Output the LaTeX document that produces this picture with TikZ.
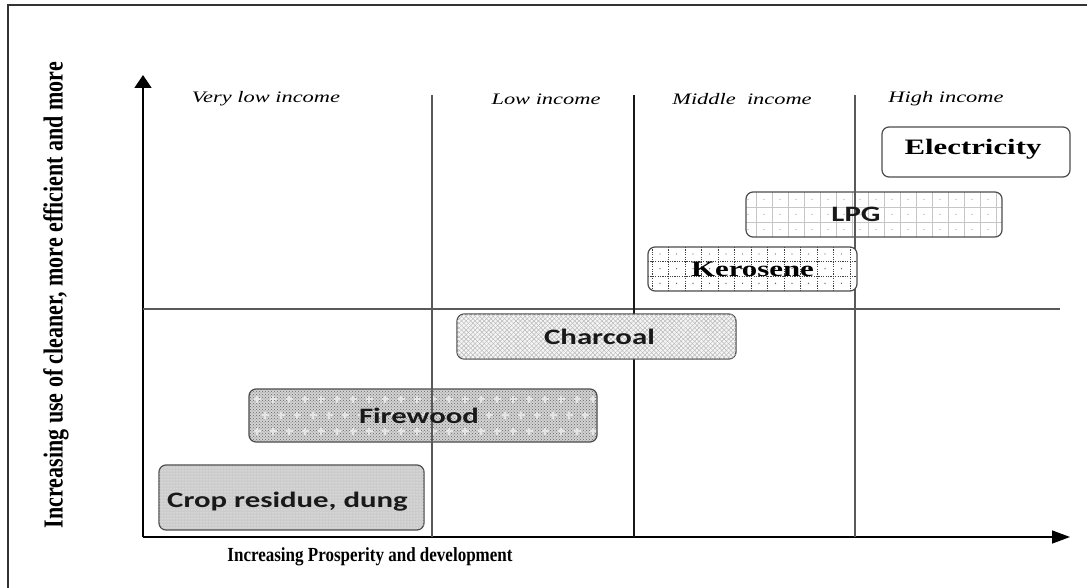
\documentclass[tikz,border=0pt]{standalone}
\usepackage{fontspec}
\setmainfont{Liberation Serif}
\newfontfamily\fuelsans{Carlito}
\usetikzlibrary{patterns,patterns.meta,arrows.meta}

% horizontally widened text
\newcommand{\widetxt}[1]{\scalebox{1.4}[1]{#1}}

\begin{document}
\begin{tikzpicture}[x=1pt,y=-1pt,
  fuelbox/.style={draw=black!70, line width=1.2pt, rounded corners=7pt, inner sep=0pt},
  serifname/.style={font=\fontsize{22}{26}\selectfont\bfseries, text=black, inner sep=0pt},
  sansname/.style={font=\fuelsans\fontsize{22}{26}\selectfont\bfseries, text=black!90, inner sep=0pt},
  bandlabel/.style={font=\fontsize{16}{19}\selectfont\itshape, inner sep=0pt},
  divider/.style={draw=black!65, line width=1.1pt},
  axis/.style={draw=black, line width=1.5pt}]

\useasboundingbox (0,0) rectangle (1087,588);
\clip (0,0) rectangle (1087,588);
\fill[white] (0,0) rectangle (1087,588);

% outer frame
\draw[line width=1.3pt, black!80] (8,5) rectangle (1200,700);

% axis end points and divider end points
\coordinate (o) at (143,537);
\coordinate (ytop) at (143,75);
\coordinate (xend) at (1070,537);
\coordinate (hl) at (143,309);
\coordinate (hr) at (1060,309);
\coordinate (d1t) at (432,95);  \coordinate (d1b) at (432,537);
\coordinate (d2t) at (634,95);  \coordinate (d2b) at (634,537);
\coordinate (d3t) at (855,95);  \coordinate (d3b) at (855,537);

% boxes that the divider lines show through
\node[fuelbox, fill=white, minimum width=256, minimum height=45,
  path picture={
    \foreach \i in {1,...,16}
      \draw[gray!45, line width=.6pt] ([xshift={\i*16pt-6pt}]path picture bounding box.north west) -- ([xshift={\i*16pt-6pt}]path picture bounding box.south west);
    \foreach \j in {1,2}
      \draw[gray!45, line width=.6pt] ([yshift={-\j*15pt}]path picture bounding box.north west) -- ([yshift={-\j*15pt}]path picture bounding box.north east);
    \foreach \i in {0,...,16}
      \foreach \j in {0,1,2}
        \fill[gray!70] ([xshift={\i*16pt+2pt},yshift={-\j*15pt-7.5pt}]path picture bounding box.north west) circle (.7pt);
  }] (lpg) at (874,214.5) {};

\node[fuelbox, minimum width=348, minimum height=53,
  preaction={fill=gray!35},
  preaction={pattern=crosshatch dots, pattern color=black!60},
  path picture={
    \foreach \i in {0,...,22}
      \foreach \j in {0,1,2}
        \draw[white!80!gray, line width=1.4pt]
          ([xshift={\i*16pt+8pt+mod(\j,2)*8pt-3.5pt},yshift={-\j*16pt-10pt}]path picture bounding box.north west) -- ++(7pt,0)
          ([xshift={\i*16pt+8pt+mod(\j,2)*8pt},yshift={-\j*16pt-13.5pt}]path picture bounding box.north west) -- ++(0,7pt);
  }] (fire) at (423,415.5) {};

\node[fuelbox, fill=gray!40, minimum width=265, minimum height=65,
  postaction={pattern=dots, pattern color=white}] (crop) at (291.5,497.5) {};

% axes
\draw[axis, -{Triangle[length=13pt,width=17pt]}] (o) -- (ytop);
\draw[axis, -{Triangle[length=18pt,width=13pt]}] (o) -- (xend);

% income bands
\draw[divider] (hl) -- (hr);
\draw[divider] (d1t) -- (d1b);
\draw[divider, draw=black!90, line width=1.3pt] (d2t) -- (d2b);
\draw[divider] (d3t) -- (d3b);

\node[bandlabel] (vlow) at (266,99) {\widetxt{Very low income}};
\node[bandlabel] (low) at (546,99) {\widetxt{Low income}};
\node[bandlabel] (mid) at (742,99) {\widetxt{Middle\ \ income}};
\node[bandlabel] (high) at (946,99) {\widetxt{High income}};

% opaque boxes
\node[fuelbox, fill=white, minimum width=188, minimum height=50] (elec) at (976,152) {};

\node[fuelbox, fill=white, minimum width=209, minimum height=44,
  path picture={
    \foreach \i in {0,...,13}
      \draw[black!75, line width=.8pt, dash pattern=on 1.2pt off 1.2pt] ([xshift={\i*16.5pt+4pt}]path picture bounding box.north west) -- ([xshift={\i*16.5pt+4pt}]path picture bounding box.south west);
    \foreach \j in {1,2}
      \draw[black!75, line width=.8pt, dash pattern=on 1.2pt off 1.2pt] ([yshift={-\j*14.7pt}]path picture bounding box.north west) -- ([yshift={-\j*14.7pt}]path picture bounding box.north east);
    \foreach \i in {0,...,13}
      \foreach \j in {0,1,2}
        \fill[black!60] ([xshift={\i*16.5pt+12pt},yshift={-\j*14.7pt-7pt}]path picture bounding box.north west) circle (.7pt);
  }] (kero) at (752.5,269) {};

\node[fuelbox, fill=gray!8, minimum width=279, minimum height=45,
  postaction={pattern={Lines[angle=45,distance=3.2pt,line width=.5pt]}, pattern color=gray!55},
  postaction={pattern={Lines[angle=-45,distance=3.2pt,line width=.5pt]}, pattern color=gray!55}] (char) at (596.5,336.5) {};

% fuel names
\node[serifname] (elect) at ([xshift=-3pt,yshift=3pt]elec.center) {\widetxt{Electricity}};
\node[sansname] (lpgt) at ([xshift=-18pt]lpg.center) {\widetxt{LPG}};
\node[serifname] (kerot) at (kero.center) {\widetxt{Kerosene}};
\node[sansname] (chart) at ([xshift=3pt]char.center) {\widetxt{Charcoal}};
\node[sansname] (firet) at ([xshift=-4pt]fire.center) {\widetxt{Firewood}};
\node[sansname] (cropt) at ([xshift=-4pt,yshift=-4pt]crop.center) {\widetxt{Crop residue, dung}};

% axis titles
\node[font=\fontsize{22}{26}\selectfont\bfseries, rotate=90, inner sep=0pt] (ylab) at (56,295)
  {\scalebox{1}[1.25]{Increasing use of cleaner, more efficient and more}};
\node[font=\fontsize{20}{24}\selectfont\bfseries, inner sep=0pt] (xlab) at (370,557)
  {\scalebox{0.85}[1]{Increasing Prosperity and development}};
\end{tikzpicture}
\end{document}
